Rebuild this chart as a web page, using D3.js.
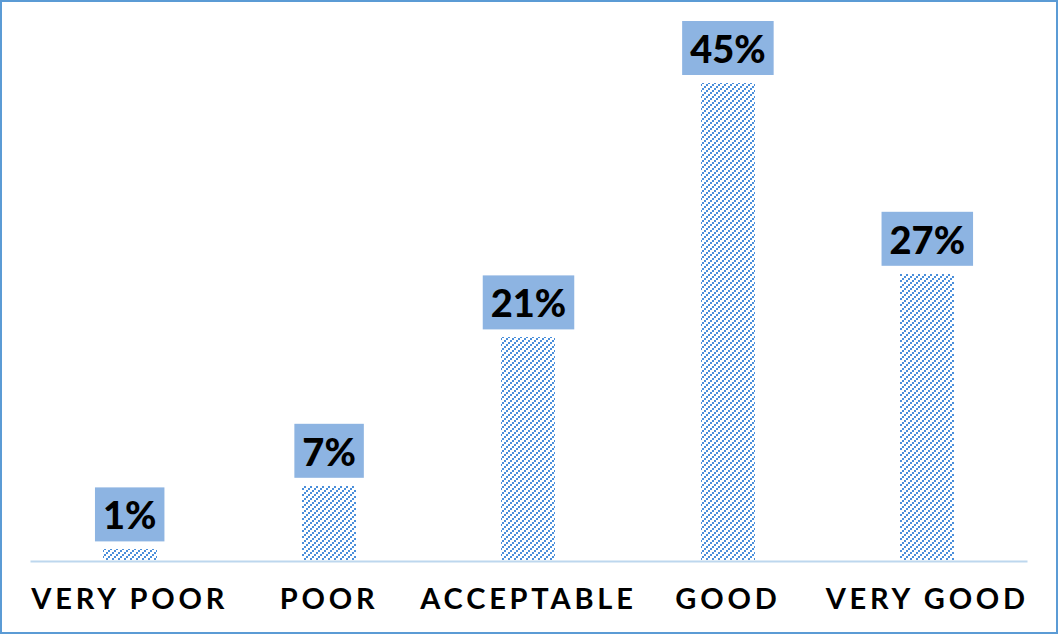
<!DOCTYPE html>
<html>
<head>
<meta charset="utf-8">
<script src="https://cdn.jsdelivr.net/npm/d3@7"></script>
<style>
  html, body { margin: 0; padding: 0; background: #fff; }
  svg { display: block; }
</style>
</head>
<body>
<svg id="chart" width="1058" height="634"></svg>
<script>
// Ratings and share of responses (percent)
const categories = ["VERY POOR", "POOR", "ACCEPTABLE", "GOOD", "VERY GOOD"];
const shares = [1, 7, 21, 45, 27];
const valueLabels = ["1%", "7%", "21%", "45%", "27%"];

const W = 1058, H = 634;
const svg = d3.select("#chart");

// Pixel-stepped diagonal hatch used by the bars
const defs = svg.append("defs");
const pat = defs.append("pattern")
  .attr("id", "hatch")
  .attr("patternUnits", "userSpaceOnUse")
  .attr("width", 6).attr("height", 6);
pat.append("rect").attr("width", 6).attr("height", 6).attr("fill", "#ffffff");
[[0, 4], [2, 2], [4, 0]].forEach(([px, py]) => {
  pat.append("rect")
    .attr("x", px).attr("y", py).attr("width", 2).attr("height", 2)
    .attr("fill", "#4a8fdb")
    .attr("shape-rendering", "crispEdges");
});

// Outer frame
svg.append("rect")
  .attr("x", 1).attr("y", 1).attr("width", W - 2).attr("height", H - 2)
  .attr("fill", "#fff").attr("stroke", "#5b9bd5").attr("stroke-width", 2);

const plot = { left: 30, right: 1027, top: 30, bottom: 560 };

const x = d3.scaleBand()
  .domain(categories)
  .range([plot.left, plot.right])
  .paddingInner(0.729)
  .paddingOuter(0.729 / 2);

const y = d3.scaleLinear()
  .domain([0, 50])
  .range([plot.bottom, plot.top]);

const data = categories.map((c, i) => ({ cat: c, v: shares[i], label: valueLabels[i] }));

// Bars
svg.append("g").selectAll("rect")
  .data(data)
  .join("rect")
  .attr("x", d => Math.round(x(d.cat)))
  .attr("y", d => Math.round(y(d.v)))
  .attr("width", Math.round(x.bandwidth()))
  .attr("height", d => Math.round(y(0)) - Math.round(y(d.v)))
  .attr("fill", "url(#hatch)")
  .attr("shape-rendering", "crispEdges");

// Category axis
const axis = svg.append("g")
  .attr("transform", `translate(0,${plot.bottom + 1})`)
  .call(d3.axisBottom(x).tickSize(0).tickPadding(27));
axis.select(".domain").attr("stroke", "#bdd7ee").attr("stroke-width", 2);
axis.selectAll("text")
  .attr("fill", "#000")
  .style("font-family", "Lato, 'Open Sans', sans-serif")
  .style("font-weight", "bold")
  .style("font-size", "29px")
  .style("letter-spacing", "3.8px")
  .attr("dy", "0.72em");

// Value labels in filled boxes
const lab = svg.append("g").selectAll("g")
  .data(data)
  .join("g")
  .attr("transform", d => `translate(${x(d.cat) + x.bandwidth() / 2},${y(d.v) - 8})`);

lab.append("text")
  .attr("text-anchor", "middle")
  .attr("y", -12)
  .style("font-family", "Lato, 'Open Sans', sans-serif")
  .style("font-weight", "900")
  .style("font-size", "38px")
  .attr("fill", "#000")
  .text(d => d.label);

lab.each(function() {
  const g = d3.select(this);
  const t = g.select("text");
  const w = t.node().getComputedTextLength() + 16;
  g.insert("rect", "text")
    .attr("x", -w / 2).attr("y", -54)
    .attr("width", w).attr("height", 54)
    .attr("fill", "#8db4e2");
});
</script>
</body>
</html>
